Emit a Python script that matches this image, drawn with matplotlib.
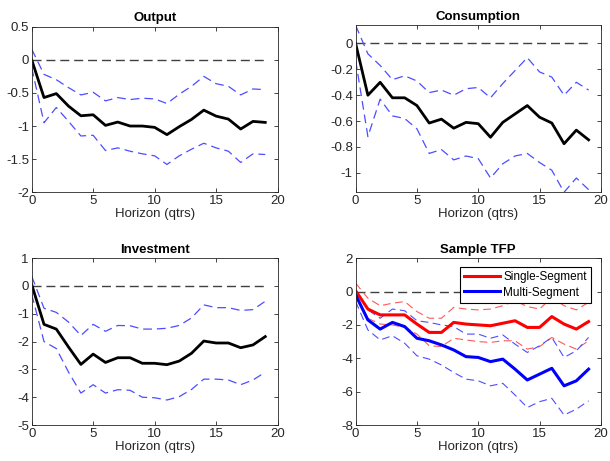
import matplotlib
matplotlib.use('Agg')
import matplotlib.pyplot as plt

plt.rcParams['font.family'] = ['Liberation Sans', 'DejaVu Sans']
plt.rcParams['axes.unicode_minus'] = False

horizon = list(range(20))

# ----------------------------- Output -----------------------------
output_irf = [0, -0.57, -0.51, -0.70, -0.845, -0.83, -0.99, -0.94, -1.0, -1.0,
              -1.02, -1.13, -1.01, -0.90, -0.76, -0.85, -0.895, -1.045, -0.93, -0.945]
output_hi = [0.16, -0.22, -0.30, -0.42, -0.53, -0.49, -0.62, -0.57, -0.60, -0.58,
             -0.59, -0.66, -0.52, -0.40, -0.25, -0.36, -0.40, -0.53, -0.44, -0.45]
output_lo = [-0.12, -0.95, -0.72, -0.93, -1.15, -1.14, -1.37, -1.33, -1.38, -1.42,
             -1.45, -1.58, -1.45, -1.35, -1.26, -1.33, -1.38, -1.55, -1.42, -1.43]

# ----------------------------- Consumption -----------------------------
cons_irf = [0, -0.40, -0.30, -0.42, -0.42, -0.48, -0.615, -0.585, -0.655, -0.61,
            -0.62, -0.725, -0.61, -0.545, -0.48, -0.57, -0.615, -0.775, -0.67, -0.745]
cons_hi = [0.14, -0.08, -0.17, -0.28, -0.25, -0.29, -0.38, -0.36, -0.40, -0.35,
           -0.34, -0.42, -0.31, -0.21, -0.11, -0.22, -0.26, -0.40, -0.30, -0.36]
cons_lo = [-0.13, -0.72, -0.43, -0.56, -0.58, -0.66, -0.85, -0.82, -0.90, -0.87,
           -0.89, -1.04, -0.93, -0.87, -0.85, -0.92, -0.98, -1.15, -1.04, -1.13]

# ----------------------------- Investment -----------------------------
inv_irf = [0.05, -1.38, -1.55, -2.2, -2.82, -2.45, -2.75, -2.58, -2.58, -2.78,
           -2.78, -2.83, -2.70, -2.42, -1.98, -2.05, -2.05, -2.22, -2.12, -1.82]
inv_hi = [0.35, -0.80, -0.95, -1.30, -1.78, -1.38, -1.63, -1.42, -1.43, -1.55,
          -1.55, -1.52, -1.42, -1.15, -0.68, -0.78, -0.78, -0.88, -0.85, -0.55]
inv_lo = [-0.30, -2.0, -2.25, -3.1, -3.85, -3.55, -3.85, -3.73, -3.75, -4.0,
          -4.02, -4.1, -3.98, -3.72, -3.35, -3.35, -3.38, -3.55, -3.38, -3.1]

# ----------------------------- Sample TFP -----------------------------
single_irf = [0.05, -1.05, -1.4, -1.4, -1.4, -1.95, -2.45, -2.45, -1.85, -1.95,
              -2.0, -2.05, -1.9, -1.75, -2.15, -2.15, -1.5, -1.95, -2.25, -1.8]
single_hi = [0.5, -0.4, -0.85, -0.7, -0.6, -1.2, -1.6, -1.6, -0.95, -1.05,
             -1.1, -1.05, -0.85, -0.55, -0.9, -1.05, -0.35, -0.85, -1.1, -0.65]
single_lo = [-0.35, -1.6, -1.95, -2.0, -2.15, -2.55, -3.25, -3.3, -2.8, -2.9,
             -3.0, -3.05, -2.95, -2.95, -3.45, -3.3, -2.75, -3.15, -3.45, -2.95]
multi_irf = [-0.2, -1.7, -2.25, -1.85, -2.1, -2.8, -2.95, -3.2, -3.5, -3.9,
             -3.95, -4.2, -4.05, -4.65, -5.3, -4.95, -4.6, -5.65, -5.35, -4.65]
multi_hi = [0.1, -1.1, -1.6, -1.05, -1.15, -1.75, -1.85, -2.0, -2.1, -2.55,
            -2.55, -2.8, -2.6, -3.15, -3.65, -3.25, -2.75, -3.95, -3.55, -2.75]
multi_lo = [-0.6, -2.3, -2.9, -2.65, -3.1, -3.85, -4.05, -4.4, -4.85, -5.25,
            -5.35, -5.65, -5.5, -6.2, -6.95, -6.6, -6.4, -7.4, -7.05, -6.55]

titles = ['Output', 'Consumption', 'Investment', 'Sample TFP']
ylims = [(-2, 0.5), (-1.15, 0.14), (-5, 1), (-8, 2)]
yticks = [[-2, -1.5, -1, -0.5, 0, 0.5],
          [-1, -0.8, -0.6, -0.4, -0.2, 0],
          [-5, -4, -3, -2, -1, 0, 1],
          [-8, -6, -4, -2, 0, 2]]
ytick_labels = [['-2', '-1.5', '-1', '-0.5', '0', '0.5'],
                ['-1', '-0.8', '-0.6', '-0.4', '-0.2', '0'],
                ['-5', '-4', '-3', '-2', '-1', '0', '1'],
                ['-8', '-6', '-4', '-2', '0', '2']]

fig = plt.figure(figsize=(6.10, 4.61), dpi=100)
posicoes = [[0.052, 0.583, 0.403, 0.359],
            [0.583, 0.583, 0.402, 0.362],
            [0.052, 0.078, 0.403, 0.362],
            [0.583, 0.078, 0.402, 0.362]]
eixos = [fig.add_axes(p) for p in posicoes]

band_blue = (0.3, 0.3, 1.0)
band_red = (1.0, 0.35, 0.35)
dash_long = (6.5, 3.5)

dados = [(output_irf, output_hi, output_lo),
         (cons_irf, cons_hi, cons_lo),
         (inv_irf, inv_hi, inv_lo)]

for i, ax in enumerate(eixos):
    # linha de zero
    ax.plot(horizon, [0] * len(horizon), color='0.25', lw=1.0, dashes=dash_long)
    if i < 3:
        irf, hi, lo = dados[i]
        ax.plot(horizon, hi, color=band_blue, lw=0.9, dashes=(7, 4))
        ax.plot(horizon, lo, color=band_blue, lw=0.9, dashes=(7, 4))
        ax.plot(horizon, irf, color='black', lw=2.0)
    else:
        ax.plot(horizon, single_hi, color=band_red, lw=0.8, dashes=(7, 4))
        ax.plot(horizon, single_lo, color=band_red, lw=0.8, dashes=(7, 4))
        ax.plot(horizon, multi_hi, color=band_blue, lw=0.8, dashes=(7, 4))
        ax.plot(horizon, multi_lo, color=band_blue, lw=0.8, dashes=(7, 4))
        l1, = ax.plot(horizon, single_irf, color='red', lw=2.2, label='Single-Segment')
        l2, = ax.plot(horizon, multi_irf, color='blue', lw=2.2, label='Multi-Segment')
        leg = ax.legend(handles=[l1, l2], loc='upper right',
                        bbox_to_anchor=(0.959, 0.948), fontsize=8.5,
                        fancybox=False, framealpha=1, edgecolor='black',
                        borderpad=0.35, handlelength=3.0, labelspacing=0.3,
                        borderaxespad=0, handletextpad=0.3)
        leg.get_frame().set_linewidth(0.8)
    ax.set_xlim(0, 20)
    ax.set_ylim(*ylims[i])
    ax.set_xticks([0, 5, 10, 15, 20])
    ax.set_yticks(yticks[i])
    ax.set_yticklabels(ytick_labels[i])
    ax.set_title(titles[i], fontsize=9.5, fontweight='bold', pad=4)
    ax.set_xlabel('Horizon (qtrs)', fontsize=9.5, color='0.15', labelpad=1)
    ax.tick_params(direction='in', top=True, right=True, length=3, width=0.6,
                   labelsize=9.5, colors='0.15', pad=2)
    for s in ax.spines.values():
        s.set_linewidth(0.6)
        s.set_color('0.15')

plt.savefig('out.png', dpi=100)
